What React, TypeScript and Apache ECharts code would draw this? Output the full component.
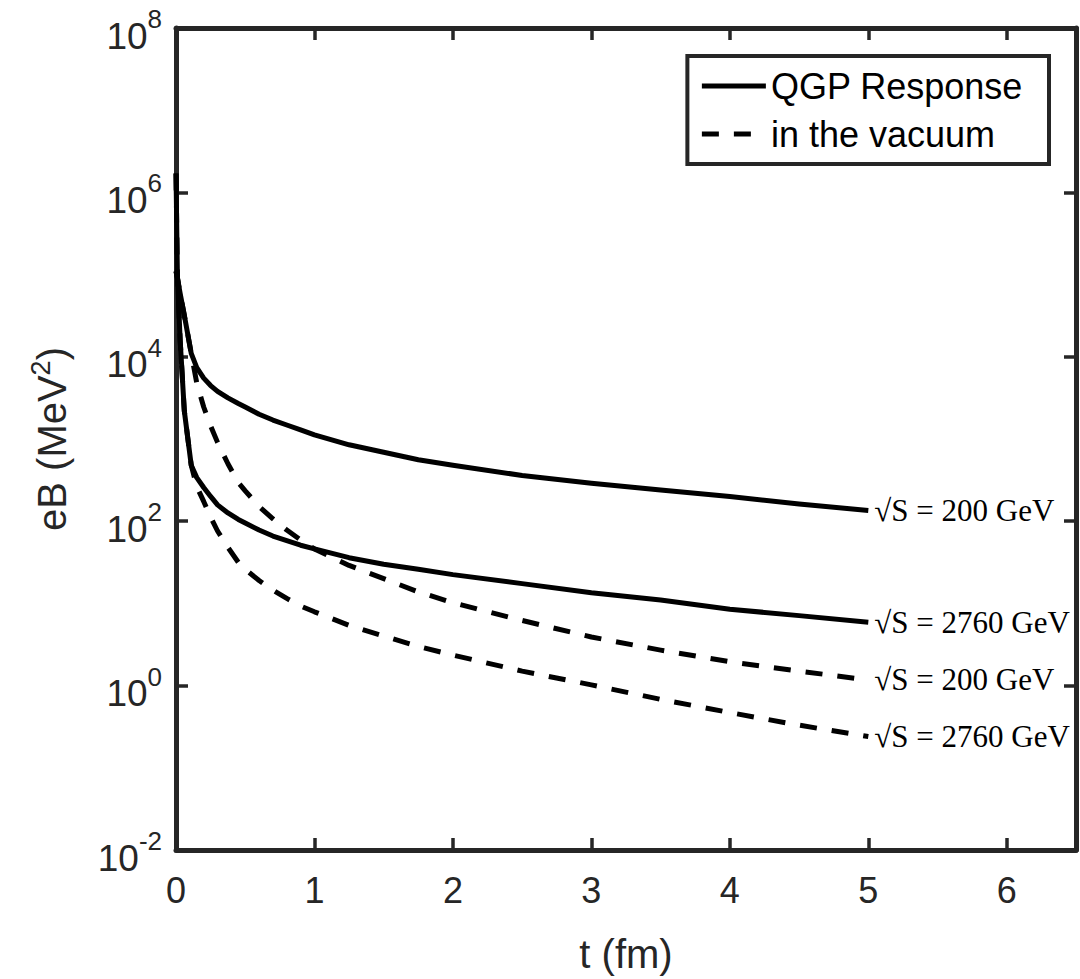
import React, { useEffect, useRef } from "react";
import * as echarts from "echarts";

// time (fm)
const timeFm = [0, 0.01, 0.03, 0.06, 0.11, 0.15, 0.2, 0.25, 0.3, 0.375, 0.45, 0.5, 0.6, 0.7, 0.8, 0.9, 1.0, 1.25, 1.5, 1.75, 2.0, 2.5, 3.0, 3.5, 4.0, 4.5, 5.0];
// eB (MeV^2)
const qgp200 = [1.1e5, 9.1e4, 5.9e4, 3.2e4, 1.1e4, 7400, 5500, 4470, 3800, 3160, 2700, 2450, 2000, 1700, 1480, 1290, 1120, 850, 690, 560, 480, 360, 290, 240, 200, 162, 135];
const qgp2760 = [1.7e6, 1.0e5, 1.6e4, 2200, 480, 339, 257, 200, 158, 126, 105, 95, 78, 66, 58, 51, 46, 36, 30, 26, 22.4, 17.4, 13.5, 11, 8.5, 7.1, 5.9];
const vac200 = [1.1e5, 9.1e4, 5.9e4, 3.2e4, 1.1e4, 4790, 2450, 1445, 910, 500, 295, 234, 151, 107, 78, 59, 46, 29, 20, 13.8, 10.2, 6.2, 3.9, 2.7, 1.95, 1.5, 1.17];
const vac2760 = [1.7e6, 1.0e5, 1.6e4, 2200, 480, 263, 174, 112, 76, 48, 31.6, 26, 19, 14.5, 11.5, 9.3, 7.9, 5.4, 4.0, 3.0, 2.35, 1.5, 1.02, 0.68, 0.47, 0.33, 0.24];

const legendNames = ["QGP Response", "in the vacuum"];
const energyLabels = ["√S = 200 GeV", "√S = 2760 GeV"];
const xName = "t (fm)";
const yName = "eB (MeV{s|2})";
const xMin = 0;
const xMax = 6.5;
const xInterval = 1;
// y axis in decades (log10 of eB): 10^-2 ... 10^8, a tick every 2 decades
const yDecadeMin = -2;
const yDecadeMax = 8;
const yDecadeInterval = 2;

const AXIS_COLOR = "#262626";
const SANS = "'Liberation Sans', Arial, Helvetica, sans-serif";
const SERIF = "'Liberation Serif', 'Times New Roman', serif";

export default function App() {
  const ref = useRef<HTMLDivElement>(null);

  useEffect(() => {
    if (!ref.current) return;
    const chart = echarts.init(ref.current, undefined, { renderer: "svg" });

    const axisLine = { show: true, onZero: false, lineStyle: { color: AXIS_COLOR, width: 5 } };
    const axisTick = { show: true, inside: true, length: 12, lineStyle: { color: AXIS_COLOR, width: 3.5 } };

    const mkSeries = (name: string, vals: number[], dashed: boolean, label: string) => ({
      type: "line",
      name,
      data: timeFm.map((t, i) => [t, Math.log10(vals[i])]),
      symbol: "none",
      showSymbol: false,
      smooth: false,
      lineStyle: { color: "#000", width: 5, type: dashed ? [17, 15] : "solid", cap: "butt", join: "round" },
      itemStyle: { color: "#000" },
      endLabel: {
        show: true,
        formatter: label,
        distance: 6,
        color: "#000",
        fontFamily: SERIF,
        fontSize: 31,
      },
      emphasis: { disabled: true },
    });

    const option: any = {
      animation: false,
      grid: { left: 176, right: 4, top: 28, bottom: 128, containLabel: false },
      legend: {
        data: legendNames,
        orient: "vertical",
        right: 31,
        top: 56,
        padding: [10, 26, 10, 12],
        itemGap: 8,
        itemWidth: 64,
        itemHeight: 14,
        borderColor: AXIS_COLOR,
        borderWidth: 4,
        backgroundColor: "#fff",
        itemStyle: { opacity: 0 },
        lineStyle: { width: 5 },
        textStyle: { fontFamily: SANS, fontSize: 36, color: "#000", lineHeight: 40 },
        selectedMode: false,
      },
      xAxis: [
        {
          type: "value",
          min: xMin,
          max: xMax,
          interval: xInterval,
          position: "bottom",
          name: xName,
          nameLocation: "middle",
          nameGap: 84,
          nameTextStyle: { fontFamily: SANS, fontSize: 40, color: AXIS_COLOR },
          axisLine,
          axisTick,
          splitLine: { show: false },
          axisLabel: {
            show: true,
            margin: 22,
            showMaxLabel: false,
            fontFamily: SANS,
            fontSize: 36,
            color: AXIS_COLOR,
          },
        },
        {
          type: "value",
          min: xMin,
          max: xMax,
          interval: xInterval,
          position: "top",
          axisLine,
          axisTick,
          splitLine: { show: false },
          axisLabel: { show: false },
        },
      ],
      yAxis: [
        {
          type: "value",
          min: yDecadeMin,
          max: yDecadeMax,
          interval: yDecadeInterval,
          position: "left",
          name: yName,
          nameLocation: "middle",
          nameGap: 100,
          nameTextStyle: {
            fontFamily: SANS,
            fontSize: 40,
            color: AXIS_COLOR,
            rich: { s: { fontFamily: SANS, fontSize: 27, color: AXIS_COLOR, padding: [0, 0, 22, 0] } },
          },
          axisLine,
          axisTick,
          splitLine: { show: false },
          axisLabel: {
            show: true,
            margin: 14,
            formatter: (v: number) => `{b|10}{s|${Math.round(v)}}`,
            rich: {
              b: { fontFamily: SANS, fontSize: 37, color: AXIS_COLOR, padding: [16, 0, 0, 0] },
              s: { fontFamily: SANS, fontSize: 26, color: AXIS_COLOR, padding: [0, 0, 18, 0] },
            },
          },
        },
        {
          type: "value",
          min: yDecadeMin,
          max: yDecadeMax,
          interval: yDecadeInterval,
          position: "right",
          axisLine,
          axisTick,
          splitLine: { show: false },
          axisLabel: { show: false },
        },
      ],
      series: [
        mkSeries(legendNames[0], qgp200, false, energyLabels[0]),
        mkSeries(legendNames[0], qgp2760, false, energyLabels[1]),
        mkSeries(legendNames[1], vac200, true, energyLabels[0]),
        mkSeries(legendNames[1], vac2760, true, energyLabels[1]),
      ],
    };

    chart.setOption(option);
    return () => chart.dispose();
  }, []);

  return (
    <div
      ref={ref}
      style={{ position: "absolute", left: 0, top: 0, width: 1080, height: 979, background: "#fff" }}
    />
  );
}
